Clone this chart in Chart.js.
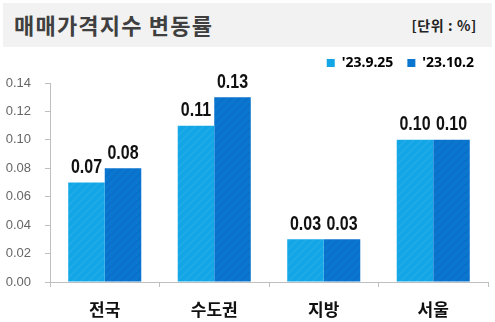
<!DOCTYPE html>
<html>
<head>
<meta charset="utf-8">
<script src="https://cdn.jsdelivr.net/npm/chart.js@4"></script>
<style>
  html, body { margin: 0; padding: 0; background: #fff; }
  #wrap { position: relative; width: 495px; height: 322px; overflow: hidden; }
  #band { position: absolute; left: 3px; top: 3px; width: 489px; height: 44px; background: #f2f2f2; }
  #title { position: absolute; left: 14px; top: 8px; font: bold 22px "Noto Sans CJK KR", sans-serif; color: #3f3f3f; letter-spacing: 1.2px; }
  #unit { position: absolute; right: 18px; top: 15px; font: bold 14px "Noto Sans CJK KR", sans-serif; color: #222; letter-spacing: 0.6px; }
  #box { position: absolute; left: 0; top: 42px; width: 495px; height: 280px; }
</style>
</head>
<body>
<div id="wrap">
  <div id="band"></div>
  <div id="title">매매가격지수 변동률</div>
  <div id="unit">[단위 : %]</div>
  <div id="box"><canvas id="chart"></canvas></div>
</div>
<script>
// 데이터
const categories = ['전국', '수도권', '지방', '서울'];
const seriesNames = ["'23.9.25", "'23.10.2"];
const prevWeek = [0.07, 0.11, 0.03, 0.10];
const thisWeek = [0.08, 0.13, 0.03, 0.10];
const yTicks = [0, 0.02, 0.04, 0.06, 0.08, 0.10, 0.12, 0.14];

// 빗금 무늬 채우기
function stripes(base, line) {
    const c = document.createElement('canvas');
    c.width = 8; c.height = 8;
    const g = c.getContext('2d');
    g.fillStyle = base;
    g.fillRect(0, 0, 8, 8);
    g.strokeStyle = line;
    g.lineWidth = 1.5;
    g.beginPath();
    g.moveTo(-2, 10); g.lineTo(10, -2);
    g.moveTo(-2, 2); g.lineTo(2, -2);
    g.moveTo(6, 10); g.lineTo(10, 6);
    g.stroke();
    return g.createPattern(c, 'repeat');
}

const lightFill = stripes('#12a6e6', 'rgba(255,255,255,0.07)');
const darkFill = stripes('#0b76cf', 'rgba(0,40,120,0.10)');

// 범례 아래 여백 추가
const legendGap = {
    id: 'legendGap',
    beforeInit(chart) {
        const fit = chart.legend.fit;
        chart.legend.fit = function() {
            fit.call(this);
            this.height += 3;
        };
    }
};

// 막대 위 값 표시 (좁은 글꼴 흉내: 가로로 줄임)
const valueLabels = {
    id: 'valueLabels',
    afterDatasetsDraw(chart) {
        const ctx = chart.ctx;
        chart.data.datasets.forEach((ds, i) => {
            chart.getDatasetMeta(i).data.forEach((bar, j) => {
                ctx.save();
                ctx.translate(bar.x, bar.y - 5);
                ctx.scale(0.8, 1);
                ctx.font = 'bold 20px "Liberation Sans", Arial, sans-serif';
                ctx.fillStyle = '#111';
                ctx.textAlign = 'center';
                ctx.textBaseline = 'bottom';
                ctx.fillText(ds.data[j].toFixed(2), 0, 0);
                ctx.restore();
            });
        });
    }
};

new Chart(document.getElementById('chart'), {
    type: 'bar',
    data: {
        labels: categories,
        datasets: [
            { label: seriesNames[0], data: prevWeek, backgroundColor: lightFill, borderWidth: 0 },
            { label: seriesNames[1], data: thisWeek, backgroundColor: darkFill, borderWidth: 0 }
        ]
    },
    options: {
        responsive: true,
        maintainAspectRatio: false,
        animation: false,
        layout: { padding: { left: 0, right: 7, top: 0, bottom: 0 } },
        datasets: { bar: { categoryPercentage: 0.667, barPercentage: 1.0 } },
        plugins: {
            legend: {
                position: 'top',
                align: 'end',
                labels: {
                    boxWidth: 8,
                    boxHeight: 8,
                    padding: 14,
                    color: '#111',
                    font: { family: '"Noto Sans", sans-serif', size: 14, weight: 'bold' },
                    generateLabels(chart) {
                        return chart.data.datasets.map((ds, i) => ({
                            text: ds.label,
                            fillStyle: i === 0 ? '#12a6e6' : '#0b76cf',
                            strokeStyle: 'transparent',
                            lineWidth: 0,
                            datasetIndex: i
                        }));
                    }
                }
            },
            tooltip: { enabled: false }
        },
        scales: {
            x: {
                afterFit(axis) { axis.height = 40; },
                grid: { drawOnChartArea: false, drawTicks: true, tickLength: 5, color: '#bfbfbf', offset: true },
                border: { color: '#bfbfbf' },
                ticks: {
                    color: '#111',
                    padding: 12,
                    font: { family: '"Noto Sans CJK KR", sans-serif', size: 17, weight: 'bold' }
                }
            },
            y: {
                min: 0,
                max: 0.14,
                afterBuildTicks(axis) { axis.ticks = yTicks.map(v => ({ value: v })); },
                afterFit(axis) { axis.width = 50; },
                grid: { drawOnChartArea: false, drawTicks: true, tickLength: 5, color: '#bfbfbf' },
                border: { color: '#bfbfbf' },
                ticks: {
                    color: '#666',
                    padding: 14,
                    font: { family: '"Liberation Sans", sans-serif', size: 13 },
                    callback: v => v.toFixed(2)
                }
            }
        }
    },
    plugins: [legendGap, valueLabels]
});
</script>
</body>
</html>
